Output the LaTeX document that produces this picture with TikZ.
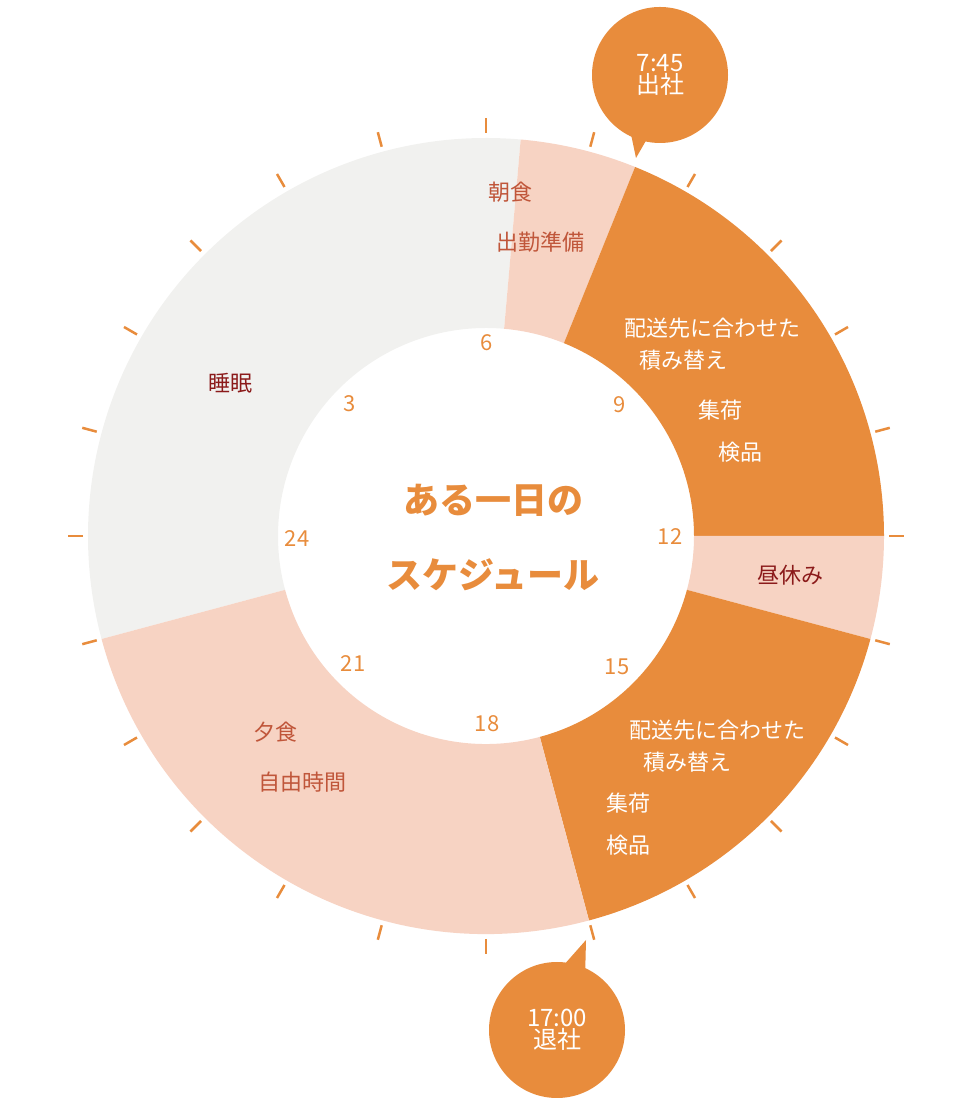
\documentclass[tikz,border=0pt]{standalone}
\usepackage{fontspec}
\setmainfont{Noto Sans CJK JP}
\definecolor{org}{HTML}{E88C3C}
\definecolor{pnk}{HTML}{F7D3C3}
\definecolor{gry}{HTML}{F1F1EF}
\definecolor{dred}{HTML}{8B1A1A}
\definecolor{rtxt}{HTML}{C0563A}
\tikzset{x=1pt,y=1pt,
 lab/.style={font=\fontsize{22}{26}\selectfont},
 num/.style={font=\fontsize{22}{26}\selectfont,text=org},
 wt/.style={lab,text=white},
 co/.style={circle,fill=org,minimum size=136pt,inner sep=0pt,align=center,text=white,font=\fontsize{24}{26}\selectfont}}
\newcommand{\seg}[3]{\fill[#3] (#1:398) arc[start angle=#1,end angle=#2,radius=398] -- (#2:208) arc[start angle=#2,end angle=#1,radius=208] -- cycle;}
\begin{document}
\begin{tikzpicture}
\useasboundingbox (0,0) rectangle (970,1100);
\begin{scope}[shift={(486,564)}]
\seg{195}{85}{gry}
\seg{85}{68}{pnk}
\seg{68}{0}{org}
\seg{0}{-15}{pnk}
\seg{-15}{-75}{org}
\seg{-75}{-165}{pnk}
\foreach \a in {0,15,...,345} \draw[org,line width=2.5pt] (\a:403) -- (\a:418);
\end{scope}
\node[co] (t) at (660,1025) {7:45\\[-4pt]出社};
\coordinate (tt) at (636,942);
\fill[org] (tt) -- (628,980) -- (655,975) -- cycle;
\node[co] (b) at (557,70) {17:00\\[-4pt]退社};
\coordinate (bt) at (586,160);
\fill[org] (bt) -- (555,125) -- (585,120) -- cycle;
\node[lab,text=rtxt] (n1) at (510,908) {朝食};
\node[lab,text=rtxt] (n2) at (540,858) {出勤準備};
\node[lab,text=dred] (n3) at (230,717) {睡眠};
\node[wt] (n4) at (712,772) {配送先に合わせた};
\node[wt] (n5) at (683,740) {積み替え};
\node[wt] (n6) at (720,690) {集荷};
\node[wt] (n7) at (740,648) {検品};
\node[lab,text=dred] (n8) at (790,525) {昼休み};
\node[wt] (n9) at (717,370) {配送先に合わせた};
\node[wt] (n10) at (687,338) {積み替え};
\node[wt] (n11) at (628,297) {集荷};
\node[wt] (n12) at (628,255) {検品};
\node[lab,text=rtxt] (n13) at (275,368) {夕食};
\node[lab,text=rtxt] (n14) at (302,318) {自由時間};
\node[text=org,font=\fontsize{36}{40}\bfseries\selectfont] (h1) at (493,600) {ある一日の};
\node[text=org,font=\fontsize{36}{40}\bfseries\selectfont] (h2) at (493,525) {スケジュール};
\node[num] at (487,757) {6};
\node[num] at (620,695) {9};
\node[num] at (670,563) {12};
\node[num] at (617,433) {15};
\node[num] at (487,376) {18};
\node[num] at (353,436) {21};
\node[num] at (350,696) {3};
\node[num] at (297,561) {24};
\end{tikzpicture}
\end{document}
